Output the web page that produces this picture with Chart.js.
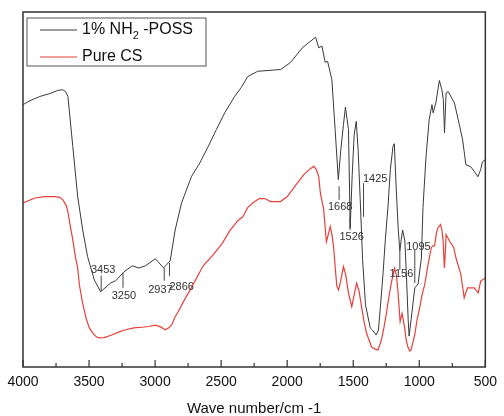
<!DOCTYPE html>
<html>
<head>
<meta charset="utf-8">
<script src="https://cdn.jsdelivr.net/npm/chart.js@4"></script>
<style>
  html, body { margin: 0; padding: 0; background: #fff; }
  #wrap { width: 504px; height: 416px; }
</style>
</head>
<body>
<div id="wrap"><canvas id="ftir"></canvas></div>
<script>
// wavenumber (cm-1) and relative transmittance
const possWn = [4000, 3948, 3873, 3798, 3738, 3700, 3678, 3660, 3623, 3586, 3548, 3511, 3460, 3412, 3335, 3298, 3236, 3173, 3123, 3073, 2998, 2936, 2913, 2886, 2848, 2799, 2724, 2661, 2598, 2536, 2473, 2398, 2349, 2299, 2224, 2049, 1974, 1886, 1785, 1761, 1737, 1712, 1694, 1662, 1637, 1613, 1594, 1574, 1559, 1536, 1523, 1508, 1493, 1477, 1463, 1447, 1429, 1407, 1371, 1354, 1327, 1309, 1290, 1274, 1257, 1237, 1219, 1199, 1189, 1174, 1159, 1147, 1137, 1126, 1109, 1096, 1084, 1077, 1062, 1034, 1009, 984, 972, 949, 925, 904, 895, 874, 848, 829, 818, 809, 797, 781, 734, 697, 672, 647, 610, 582, 556, 535, 522, 500];
const possT = [73.9, 75.0, 76.2, 77.0, 77.9, 78.1, 77.6, 76.2, 62.1, 48.0, 38.6, 31.1, 24.5, 21.2, 23.7, 24.3, 26.8, 28.5, 27.9, 28.5, 30.5, 27.9, 28.8, 29.9, 38.6, 46.3, 53.7, 57.5, 62.1, 66.9, 71.6, 76.2, 78.7, 81.8, 83.3, 83.8, 85.8, 89.9, 92.9, 89.9, 90.4, 85.8, 86.1, 81.0, 66.9, 52.8, 61.2, 68.3, 73.2, 66.9, 39.2, 53.9, 65.4, 69.2, 61.2, 47.1, 30.2, 17.5, 11.0, 10.4, 9.0, 10.4, 18.9, 26.5, 35.8, 45.1, 55.6, 62.1, 62.9, 49.9, 38.6, 32.7, 35.8, 38.6, 35.5, 24.5, 13.3, 8.7, 13.3, 22.3, 23.4, 30.7, 44.9, 59.2, 69.7, 73.9, 71.6, 74.5, 80.7, 78.1, 75.3, 66.0, 77.2, 77.6, 74.4, 68.3, 64.0, 57.0, 56.4, 55.0, 53.6, 55.6, 57.8, 58.4];

const csWn = [4000, 3910, 3835, 3760, 3723, 3698, 3672, 3660, 3644, 3623, 3603, 3586, 3573, 3550, 3523, 3498, 3473, 3445, 3423, 3385, 3323, 3273, 3223, 3161, 3098, 3048, 2998, 2958, 2923, 2898, 2873, 2853, 2823, 2778, 2726, 2636, 2561, 2494, 2434, 2374, 2336, 2299, 2261, 2209, 2164, 2126, 2051, 1999, 1961, 1924, 1874, 1834, 1799, 1779, 1761, 1749, 1724, 1703, 1691, 1674, 1661, 1648, 1635, 1624, 1611, 1594, 1574, 1557, 1536, 1511, 1493, 1474, 1455, 1437, 1418, 1399, 1362, 1339, 1312, 1287, 1268, 1249, 1231, 1212, 1187, 1174, 1162, 1145, 1130, 1112, 1099, 1087, 1073, 1062, 1034, 1017, 997, 979, 959, 934, 909, 897, 884, 870, 859, 839, 829, 820, 810, 802, 797, 771, 739, 722, 685, 660, 635, 584, 554, 535, 500];
const csT = [46.2, 47.6, 48.0, 48.0, 47.8, 47.1, 45.4, 43.7, 40.1, 35.8, 31.0, 27.9, 23.1, 18.3, 13.8, 11.0, 9.6, 8.5, 8.2, 8.3, 9.1, 9.9, 10.5, 11.0, 11.2, 11.4, 11.8, 11.3, 10.5, 11.0, 11.9, 13.8, 15.7, 18.9, 22.3, 28.5, 31.6, 34.7, 38.4, 41.2, 42.3, 44.9, 46.2, 47.5, 47.4, 46.6, 46.6, 48.0, 49.9, 51.8, 54.2, 55.6, 56.5, 55.6, 53.6, 49.1, 44.4, 35.3, 37.0, 39.6, 37.2, 33.6, 27.4, 22.7, 21.7, 24.5, 28.3, 26.0, 20.8, 17.0, 20.3, 23.6, 21.2, 17.0, 12.7, 9.5, 5.7, 5.1, 4.8, 7.6, 11.0, 15.1, 19.5, 23.6, 27.8, 26.0, 21.7, 12.8, 15.1, 11.4, 7.6, 5.7, 4.5, 4.8, 9.1, 13.3, 16.6, 20.3, 23.2, 28.8, 33.6, 34.1, 34.1, 37.8, 39.2, 40.1, 38.6, 35.8, 27.9, 33.0, 37.3, 35.5, 33.6, 30.7, 26.0, 19.5, 22.3, 22.3, 20.9, 24.2, 25.1];

// peak labels: text, line position, line top/bottom, text position
const peakText = ['3453', '3250', '2937', '2866', '1668', '1526', '1425', '1156', '1095'];
const peakLineWn = [3408, 3243, 2931, 2891, 1607, 1524, 1422, 1147, 1034];
const peakLineTop = [25.7, 26.5, 27.9, 29.3, 50.9, 42.4, 51.8, 32.7, 33.0];
const peakLineBot = [21.4, 22.3, 24.3, 25.7, 47.1, 38.6, 42.3, 27.4, 23.7];
const peakTextWn = [3393, 3236, 2960, 2799, 1599, 1512, 1334, 1135, 1006];
const peakTextT = [27.2, 20.0, 21.8, 22.6, 45.2, 36.6, 52.9, 26.2, 33.9];

const legendNames = ['1% NH|2| -POSS', 'Pure CS'];
const lineColors = ['#3a3a3a', '#e5413a'];

function pairs(xs, ys) {
    return xs.map((x, i) => ({ x: x, y: ys[i] }));
}

const framePlugin = {
    id: 'frame',
    afterDatasetsDraw(chart) {
        const ctx = chart.ctx;
        const a = chart.chartArea;
        const xs = chart.scales.x;
        const ys = chart.scales.y;
        ctx.save();
        // axis frame
        ctx.strokeStyle = '#333';
        ctx.lineWidth = 1.5;
        ctx.strokeRect(a.left, a.top, a.right - a.left, a.bottom - a.top);
        // inward ticks on the bottom axis
        ctx.lineWidth = 1.2;
        for (let w = 500; w <= 4000; w += 250) {
            const px = xs.getPixelForValue(w);
            const len = (w % 500 === 0) ? 7 : 4;
            ctx.beginPath();
            ctx.moveTo(px, a.bottom);
            ctx.lineTo(px, a.bottom - len);
            ctx.stroke();
        }
        // peak annotations
        ctx.strokeStyle = '#444';
        ctx.lineWidth = 1;
        ctx.fillStyle = '#333';
        ctx.font = '11px "Liberation Sans", Arial, sans-serif';
        ctx.textAlign = 'center';
        ctx.textBaseline = 'middle';
        for (let i = 0; i < peakText.length; i++) {
            const px = xs.getPixelForValue(peakLineWn[i]);
            ctx.beginPath();
            ctx.moveTo(px, ys.getPixelForValue(peakLineTop[i]));
            ctx.lineTo(px, ys.getPixelForValue(peakLineBot[i]));
            ctx.stroke();
            ctx.fillText(peakText[i], xs.getPixelForValue(peakTextWn[i]), ys.getPixelForValue(peakTextT[i]));
        }
        // legend box
        const bx = a.left + 4, by = a.top + 6, bw = 179, bh = 48;
        ctx.strokeStyle = '#555';
        ctx.lineWidth = 1;
        ctx.strokeRect(bx, by, bw, bh);
        ctx.textAlign = 'left';
        for (let i = 0; i < legendNames.length; i++) {
            const ly = by + 12 + i * 27;
            ctx.strokeStyle = lineColors[i];
            ctx.lineWidth = 1;
            ctx.beginPath();
            ctx.moveTo(bx + 13, ly);
            ctx.lineTo(bx + 50, ly);
            ctx.stroke();
            ctx.fillStyle = '#111';
            let tx = bx + 55;
            const parts = legendNames[i].split('|');
            parts.forEach((p, k) => {
                if (k % 2 === 1) {
                    ctx.font = '11px "Liberation Sans", Arial, sans-serif';
                    ctx.fillText(p, tx, ly + 6);
                } else {
                    ctx.font = '16px "Liberation Sans", Arial, sans-serif';
                    ctx.fillText(p, tx, ly);
                }
                tx += ctx.measureText(p).width;
            });
        }
        ctx.restore();
    }
};

const chart = new Chart(document.getElementById('ftir').getContext('2d'), {
    type: 'scatter',
    data: {
        datasets: [{
            label: legendNames[0],
            data: pairs(possWn, possT),
            showLine: true,
            borderColor: lineColors[0],
            borderWidth: 1,
            pointRadius: 0
        }, {
            label: legendNames[1],
            data: pairs(csWn, csT),
            showLine: true,
            borderColor: lineColors[1],
            borderWidth: 1.2,
            pointRadius: 0
        }]
    },
    options: {
        responsive: true,
        maintainAspectRatio: false,
        animation: false,
        layout: { padding: { left: 23, right: 13, top: 12, bottom: 0 } },
        plugins: {
            legend: { display: false },
            tooltip: { enabled: false }
        },
        scales: {
            x: {
                type: 'linear',
                reverse: true,
                min: 500,
                max: 4000,
                grid: { display: false, drawTicks: false },
                border: { display: false },
                ticks: {
                    stepSize: 500,
                    padding: 7,
                    color: '#111',
                    callback: v => String(v),
                    font: { size: 14, family: '"Liberation Sans", Arial, sans-serif' }
                },
                title: {
                    display: true,
                    text: 'Wave number/cm -1',
                    color: '#111',
                    padding: { top: 4, bottom: -2 },
                    font: { size: 15, family: '"Liberation Sans", Arial, sans-serif' }
                },
                afterFit: s => { s.height = 49; }
            },
            y: {
                display: false,
                min: 0,
                max: 100
            }
        }
    },
    plugins: [framePlugin]
});
</script>
</body>
</html>
